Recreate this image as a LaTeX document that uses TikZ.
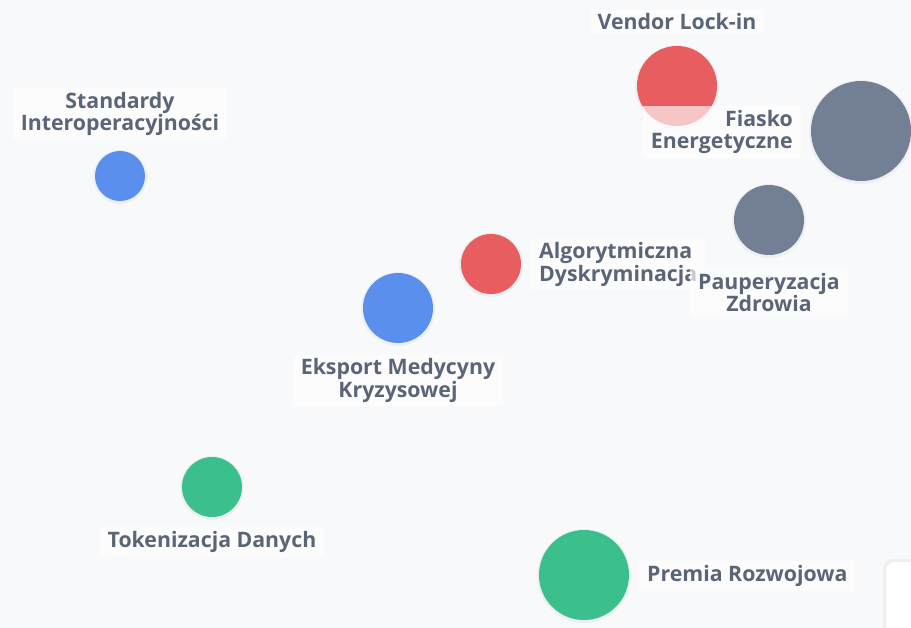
\documentclass[tikz,border=0pt]{standalone}
\usepackage{fontspec}
\setmainfont{Open Sans}
\definecolor{bg}{HTML}{F8F9FB}
\definecolor{lbl}{HTML}{5B6578}
\definecolor{cred}{HTML}{E85D5F}
\definecolor{cblue}{HTML}{5B8FEE}
\definecolor{cgray}{HTML}{737F94}
\definecolor{cgreen}{HTML}{3BBF8C}
\tikzset{
  bub/.style={circle, inner sep=0pt, minimum size=#1},
  halo/.style={circle, inner sep=0pt, minimum size=#1, fill=black, fill opacity=0.04},
  lab/.style={fill=white, fill opacity=0.65, text opacity=1, text=lbl, font=\bfseries\fontsize{21.3}{22.5}\selectfont, align=center, inner xsep=8pt, inner ysep=4pt},
}
\begin{document}
\begin{tikzpicture}[x=1pt,y=-1pt]
\fill[bg] (0,0) rectangle (911,628);
\useasboundingbox (0,0) rectangle (911,628);
% soft halos
\foreach \x/\y/\d in {677/86/80, 861/131/100, 120/176/50, 769/220/70, 491/264/60, 398/308/70, 212/487/60, 584/575/90}
  \node[halo=\d pt+4pt] at (\x,\y+1) {};
% bubbles
\node[bub=80pt, fill=cred] (vl) at (677,86) {};
\node[bub=100pt, fill=cgray] (fe) at (861,131) {};
\node[bub=50pt, fill=cblue] (si) at (120,176) {};
\node[bub=70pt, fill=cgray] (pz) at (769,220) {};
\node[bub=60pt, fill=cred] (ad) at (491,264) {};
\node[bub=70pt, fill=cblue] (em) at (398,308) {};
\node[bub=60pt, fill=cgreen] (td) at (212,487) {};
\node[bub=90pt, fill=cgreen] (pr) at (584,575) {};
% labels
\node[lab] (lvl) at (677,22) {Vendor Lock-in};
\node[lab, align=right, anchor=east] (lfe) at (801,132) {Fiasko\\Energetyczne};
\node[lab] (lsi) at (120,114) {Standardy\\Interoperacyjności};
\node[lab, align=left, anchor=west] (lad) at (531,264.5) {Algorytmiczna\\Dyskryminacja};
\node[lab] (lpz) at (769,292.5) {Pauperyzacja\\Zdrowia};
\node[lab] (lem) at (398,380.5) {Eksport Medycyny\\Kryzysowej};
\node[lab] (ltd) at (212,542) {Tokenizacja Danych};
\node[lab, anchor=west] (lpr) at (639,576) {Premia Rozwojowa};
% corner panel
\fill[black, opacity=0.04, rounded corners=10pt] (883,559) rectangle (940,660);
\draw[draw=black!7, fill=white, rounded corners=8pt] (886,562) rectangle (940,660);
\end{tikzpicture}
\end{document}
